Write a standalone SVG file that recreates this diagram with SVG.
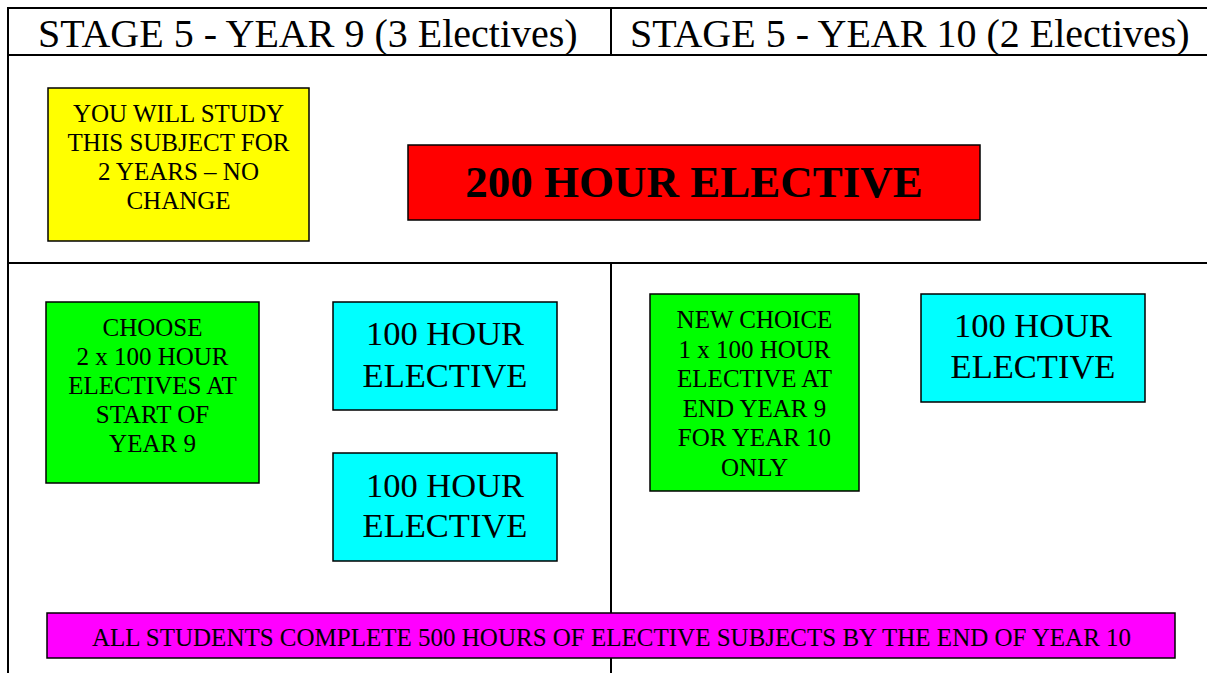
<svg xmlns="http://www.w3.org/2000/svg" width="1207" height="673" viewBox="0 0 1207 673">
<style>
  .grid { stroke: #000; stroke-width: 2; fill: none; }
  .box { stroke: #000; stroke-width: 1.5; }
  .t { font-family: "Liberation Serif", "Times New Roman", serif; fill: #000; text-anchor: middle; }
  .hdr { font-family: "Liberation Serif", "Times New Roman", serif; font-size: 40px; fill: #000; }
  .s24 { font-size: 25px; }
  .s34 { font-size: 34.5px; }
</style>
<rect x="0" y="0" width="1207" height="673" fill="#fff"/>
<g id="table">
  <line class="grid" x1="7" y1="8" x2="1207" y2="8"/>
  <line class="grid" x1="8" y1="7" x2="8" y2="673"/>
  <line class="grid" x1="7" y1="55" x2="1207" y2="55" stroke-width="1.5"/>
  <line class="grid" x1="7" y1="263" x2="1207" y2="263"/>
  <line class="grid" x1="611" y1="8" x2="611" y2="55"/>
  <line class="grid" x1="611" y1="263" x2="611" y2="673"/>
  <text class="hdr" x="38" y="47">STAGE 5 - YEAR 9 (3 Electives)</text>
  <text class="hdr" x="630" y="47">STAGE 5 - YEAR 10 (2 Electives)</text>
</g>
<g id="yellow-note">
  <rect class="box" x="48" y="88" width="261" height="153" fill="#FFFF00"/>
  <text class="t s24" x="178.5" y="122">YOU WILL STUDY</text>
  <text class="t s24" x="178.5" y="151">THIS SUBJECT FOR</text>
  <text class="t s24" x="178.5" y="180">2 YEARS – NO</text>
  <text class="t s24" x="178.5" y="209">CHANGE</text>
</g>
<g id="elective-200">
  <rect class="box" x="408" y="145" width="572" height="75" fill="#FF0000"/>
  <text class="t" x="694" y="197" font-size="45" font-weight="bold">200 HOUR ELECTIVE</text>
</g>
<g id="choose-y9">
  <rect class="box" x="46" y="302" width="213" height="181" fill="#00FF00"/>
  <text class="t s24" x="152.5" y="336">CHOOSE</text>
  <text class="t s24" x="152.5" y="365">2 x 100 HOUR</text>
  <text class="t s24" x="152.5" y="394">ELECTIVES AT</text>
  <text class="t s24" x="152.5" y="423">START OF</text>
  <text class="t s24" x="152.5" y="452">YEAR 9</text>
</g>
<g id="elective-100-a">
  <rect class="box" x="333" y="302" width="224" height="108" fill="#00FFFF"/>
  <text class="t s34" x="445" y="345">100 HOUR</text>
  <text class="t s34" x="445" y="387">ELECTIVE</text>
</g>
<g id="elective-100-b">
  <rect class="box" x="333" y="453" width="224" height="108" fill="#00FFFF"/>
  <text class="t s34" x="445" y="497">100 HOUR</text>
  <text class="t s34" x="445" y="537">ELECTIVE</text>
</g>
<g id="choose-y10">
  <rect class="box" x="650" y="294" width="209" height="197" fill="#00FF00"/>
  <text class="t s24" x="754.5" y="328">NEW CHOICE</text>
  <text class="t s24" x="754.5" y="357.5">1 x 100 HOUR</text>
  <text class="t s24" x="754.5" y="387">ELECTIVE AT</text>
  <text class="t s24" x="754.5" y="416.5">END YEAR 9</text>
  <text class="t s24" x="754.5" y="446">FOR YEAR 10</text>
  <text class="t s24" x="754.5" y="475.5">ONLY</text>
</g>
<g id="elective-100-c">
  <rect class="box" x="921" y="294" width="224" height="108" fill="#00FFFF"/>
  <text class="t s34" x="1033" y="337">100 HOUR</text>
  <text class="t s34" x="1033" y="378">ELECTIVE</text>
</g>
<g id="summary">
  <rect class="box" x="47" y="613" width="1128" height="45" fill="#FF00FF"/>
  <text class="t s24" x="611.5" y="646">ALL STUDENTS COMPLETE 500 HOURS OF ELECTIVE SUBJECTS BY THE END OF YEAR 10</text>
</g>
<g id="connectors"></g>
</svg>
